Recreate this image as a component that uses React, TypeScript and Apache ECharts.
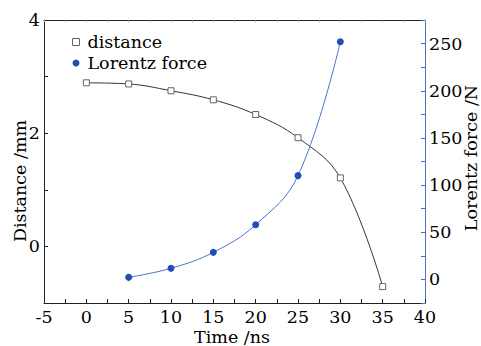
import React, { useEffect, useRef } from "react";
import * as echarts from "echarts";

const timeNs = [0, 5, 10, 15, 20, 25, 30, 35];
const distanceMm = [2.89, 2.87, 2.75, 2.59, 2.33, 1.92, 1.21, -0.71];
const forceTime = [5, 10, 15, 20, 25, 30];
const lorentzN = [2.2, 11.8, 28.7, 58, 110, 252];
const xLabelStep = 5;
const leftLabels = [0, 2, 4];
const rightLabels = [0, 50, 100, 150, 200, 250];

const FONT = "DejaVu Serif";
const FS = 17.5;
const BLUE_LINE = "#4f6fd6";
const BLUE_DOT = "#1f4fb5";

export default function App() {
  const ref = useRef<HTMLDivElement>(null);
  useEffect(() => {
    if (!ref.current) return;
    const chart = echarts.init(ref.current, null, { renderer: "svg" });
    const textStyle = { fontFamily: FONT, fontSize: FS, color: "#000" };
    const xBase = {
      type: "value",
      min: -5,
      max: 40,
      interval: 2.5,
      splitLine: { show: false },
    };
    const titleStyle = {
      fontFamily: FONT,
      fontSize: FS,
      lineHeight: 16,
      fill: "#000",
      align: "center",
      verticalAlign: "middle",
    };
    chart.setOption({
      animation: false,
      backgroundColor: "#fff",
      grid: { left: 44, right: 56, top: 20, bottom: 43 },
      legend: {
        orient: "vertical",
        left: 67,
        top: 28,
        itemWidth: 7,
        itemHeight: 7,
        itemGap: 3,
        textStyle: { ...textStyle, padding: [0, 0, 0, 3] },
        data: [
          {
            name: "distance",
            icon: "rect",
            itemStyle: { color: "#fff", borderColor: "#666", borderWidth: 1 },
          },
          { name: "Lorentz force", icon: "circle", itemStyle: { color: BLUE_DOT } },
        ],
      },
      xAxis: [
        {
          ...xBase,
          position: "bottom",
          axisLine: { onZero: false, lineStyle: { color: "#222", width: 1 } },
          axisTick: {
            inside: true,
            length: 4,
            lineStyle: { color: "#222" },
          },
          axisLabel: {
            ...textStyle,
            lineHeight: 16,
            margin: 6,
            formatter: (v: number) => (v % xLabelStep === 0 ? String(v) : ""),
          },
        },
        {
          ...xBase,
          position: "top",
          axisLine: { onZero: false, lineStyle: { color: "#222", width: 1 } },
          axisTick: { inside: true, length: 2, lineStyle: { color: "#999" } },
          axisLabel: { show: false },
        },
      ],
      yAxis: [
        {
          type: "value",
          min: -1,
          max: 4,
          interval: 1,
          position: "left",
          splitLine: { show: false },
          axisLine: { show: true, onZero: false, lineStyle: { color: "#222", width: 1 } },
          axisTick: { show: true, inside: true, length: 4, lineStyle: { color: "#222" } },
          axisLabel: {
            ...textStyle,
            margin: 4,
            formatter: (v: number) => (leftLabels.includes(v) ? String(v) : ""),
          },
        },
        {
          type: "value",
          min: -25,
          max: 275,
          interval: 25,
          position: "right",
          splitLine: { show: false },
          axisLine: { show: true, onZero: false, lineStyle: { color: BLUE_LINE, width: 1 } },
          axisTick: { show: true, inside: true, length: 4, lineStyle: { color: BLUE_LINE } },
          axisLabel: {
            ...textStyle,
            margin: 4,
            formatter: (v: number) => (rightLabels.includes(v) ? String(v) : ""),
          },
        },
      ],
      graphic: [
        {
          type: "text",
          x: 20,
          y: 181,
          rotation: Math.PI / 2,
          style: { text: "Distance /mm", ...titleStyle },
        },
        {
          type: "text",
          x: 471,
          y: 158,
          rotation: Math.PI / 2,
          style: { text: "Lorentz force /N", ...titleStyle },
        },
        {
          type: "text",
          x: 232,
          y: 337,
          style: { text: "Time /ns", ...titleStyle },
        },
      ],
      series: [
        {
          name: "distance",
          type: "line",
          xAxisIndex: 0,
          yAxisIndex: 0,
          data: timeNs.map((t, i) => [t, distanceMm[i]]),
          smooth: 0.4,
          symbol: "rect",
          symbolSize: 6,
          showAllSymbol: true,
          lineStyle: { color: "#333", width: 1 },
          itemStyle: { color: "#fff", borderColor: "#666", borderWidth: 1 },
          z: 2,
        },
        {
          name: "Lorentz force",
          type: "line",
          xAxisIndex: 0,
          yAxisIndex: 1,
          data: forceTime.map((t, i) => [t, lorentzN[i]]),
          smooth: 0.4,
          symbol: "circle",
          symbolSize: 7,
          showAllSymbol: true,
          lineStyle: { color: BLUE_LINE, width: 1 },
          itemStyle: { color: BLUE_DOT },
          z: 3,
        },
      ],
    });
    return () => chart.dispose();
  }, []);
  return <div ref={ref} style={{ width: 481, height: 346, position: "absolute", left: 0, top: 0 }} />;
}
